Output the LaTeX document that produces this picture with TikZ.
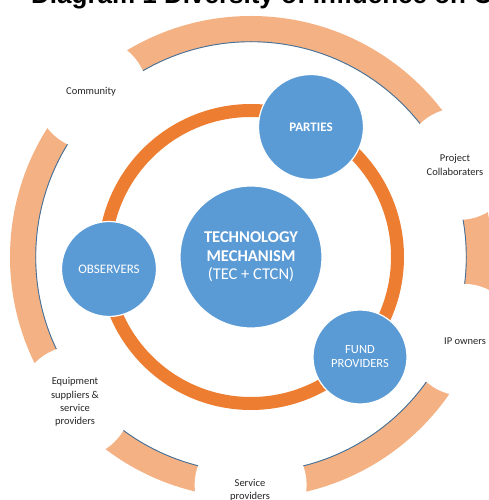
\documentclass[tikz,border=0pt]{standalone}
\usepackage{fontspec}
\setmainfont{Carlito}
\newfontfamily\titlefont{Liberation Sans}
\definecolor{peach}{HTML}{F4B183}
\definecolor{ringorange}{HTML}{ED7D31}
\definecolor{bubble}{HTML}{5B9BD5}
\definecolor{rimblue}{HTML}{41719C}
\begin{document}
\begin{tikzpicture}[x=1pt,y=1pt,
  bubblenode/.style={circle, fill=bubble, draw=white, line width=1.2pt,
    text=white, align=center, inner sep=0pt},
  outerlabel/.style={text=black!85, align=center,
    font=\fontsize{10.5}{13.3}\selectfont},
]
\useasboundingbox (-251,-243) rectangle (238,257);
\clip (-251,-243) rectangle (238,257);

% heading, running off the top edge
\node[anchor=base west, inner sep=0pt,
  font=\titlefont\bfseries\fontsize{26}{30}\selectfont] (title) at (-220,253)
  {Diagram 1 Diversity of Influence on C};

% outer ring of influence, with a thin rim on its inner edge
\fill[peach, even odd rule] (0,0) circle (241) (0,0) circle (215);
\draw[rimblue, line width=0.9pt] (0,0) circle (215.3);
% openings in the outer ring where the stakeholder labels sit
\foreach \a in {134.3,24.1,-21.3,-90.1,219.5}
  \fill[white] (\a:228) circle (56);

% inner ring
\draw[ringorange, line width=13pt] (0,0) circle (146.5);

% central body and the groups around it
\node[bubblenode, minimum size=142pt,
  font=\fontsize{16.5}{18.5}\selectfont] (tm) at (0,0)
  {\textbf{TECHNOLOGY}\\\textbf{MECHANISM}\\(TEC + CTCN)};
\node[bubblenode, minimum size=105pt,
  font=\bfseries\fontsize{13}{15}\selectfont] (parties) at (60,130) {PARTIES};
\node[bubblenode, minimum size=95pt,
  font=\fontsize{13}{15}\selectfont] (observers) at (-142,-12) {OBSERVERS};
\node[bubblenode, minimum size=94pt,
  font=\fontsize{12.5}{14}\selectfont] (fund) at (109,-100) {FUND\\PROVIDERS};

% stakeholder labels
\node[outerlabel] (community) at (-160,165) {Community};
\node[outerlabel] (collab) at (204,92) {Project\\Collaboraters};
\node[outerlabel] (ip) at (214,-84) {IP owners};
\node[outerlabel] (service) at (-1,-233) {Service\\providers};
\node[outerlabel] (equip) at (-176,-145) {Equipment\\suppliers \&\\service\\providers};
\end{tikzpicture}
\end{document}
